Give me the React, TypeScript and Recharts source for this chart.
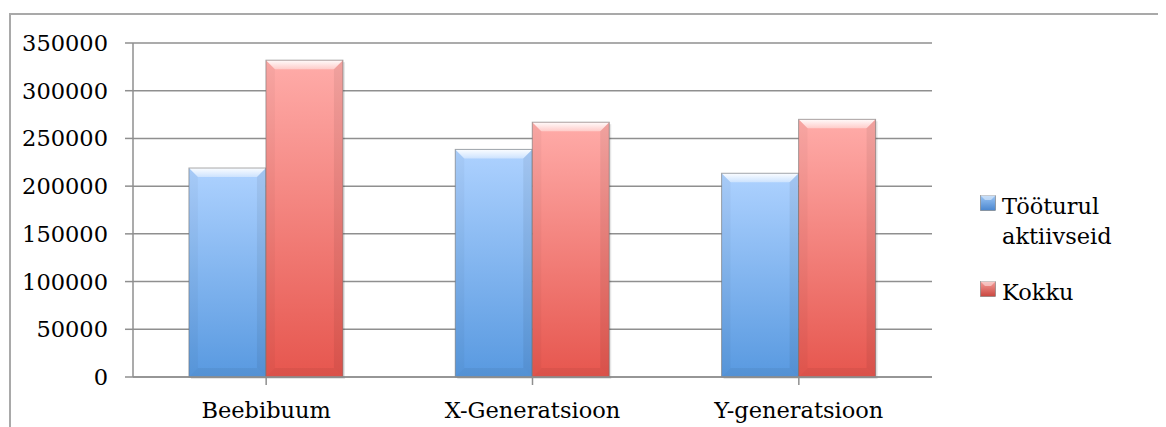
import { BarChart, Bar, XAxis, YAxis, CartesianGrid } from 'recharts';

const generations = ['Beebibuum', 'X-Generatsioon', 'Y-generatsioon'];
const activeInLabour = [219000, 238500, 213500];
const totals = [332000, 267000, 270000];
const yTicks = [0, 50000, 100000, 150000, 200000, 250000, 300000, 350000];

const seriesNames = ['Tööturul aktiivseid', 'Kokku'];

const chartData = generations.map((name, i) => ({
  name,
  active: activeInLabour[i],
  total: totals[i],
}));

const FONT = '"DejaVu Serif", serif';
const FONT_SIZE = 22.5;

// Bevelled bar, drawn the way office charts render their "soft" bars
const BevelBar = (props: any) => {
  const { x, y, width, height, gradId } = props;
  if (!height || height <= 0) return null;
  const b = Math.min(9, width / 4, height / 2);
  const r = x + width;
  const bt = y + height;
  return (
    <g>
      <rect x={x + 2} y={y + 2} width={width} height={height} fill="#000" opacity={0.1} />
      <rect x={x} y={y} width={width} height={height} fill={`url(#${gradId})`} />
      {/* top bevel */}
      <polygon points={`${x},${y} ${r},${y} ${r - b},${y + b} ${x + b},${y + b}`} fill="url(#bevelTop)" />
      {/* side bevels */}
      <polygon points={`${x},${y} ${x + b},${y + b} ${x + b},${bt - b} ${x},${bt}`} fill="#000" opacity={0.03} />
      <polygon points={`${r},${y} ${r - b},${y + b} ${r - b},${bt - b} ${r},${bt}`} fill="#000" opacity={0.06} />
      <polygon points={`${x},${bt} ${x + b},${bt - b} ${r - b},${bt - b} ${r},${bt}`} fill="#000" opacity={0.05} />
      <rect x={x} y={y} width={width} height={height} fill="none" stroke="#6f6f6f" strokeOpacity={0.6} strokeWidth={1} />
    </g>
  );
};

const Swatch = ({ from, to }: { from: string; to: string }) => {
  const id = `sw-${from.slice(1)}`;
  return (
    <svg width={16} height={16} style={{ marginRight: 6, marginTop: 4, flex: 'none' }}>
      <defs>
        <linearGradient id={id} x1="0" y1="0" x2="0" y2="1">
          <stop offset="0%" stopColor={from} />
          <stop offset="100%" stopColor={to} />
        </linearGradient>
      </defs>
      <rect x={0.5} y={0.5} width={15} height={15} fill={`url(#${id})`} stroke="#777" strokeWidth={0.6} />
      <polygon points="0,0 16,0 11,5 5,5" fill="#fff" opacity={0.45} />
    </svg>
  );
};

const LegendBox = () => (
  <div
    style={{
      position: 'absolute',
      left: 972,
      top: 183,
      fontFamily: FONT,
      fontSize: FONT_SIZE,
      color: '#000',
      lineHeight: '30px',
    }}
  >
    <div style={{ display: 'flex', alignItems: 'flex-start' }}>
      <Swatch from="#9cc6f5" to="#4a86cf" />
      <div style={{ width: 120 }}>{seriesNames[0]}</div>
    </div>
    <div style={{ display: 'flex', alignItems: 'flex-start', marginTop: 26 }}>
      <Swatch from="#f59c98" to="#c9463f" />
      <div>{seriesNames[1]}</div>
    </div>
  </div>
);

const App = () => {
  return (
    <div style={{ position: 'relative', width: 1158, height: 419, overflow: 'hidden', background: '#fff' }}>
      <div
        style={{
          position: 'absolute',
          left: 1,
          top: 5,
          width: 2000,
          height: 1000,
          border: '2px solid #a9a9a9',
          boxSizing: 'border-box',
        }}
      />
      <div style={{ position: 'absolute', left: 0, top: 0 }}>
        <BarChart
          width={1158}
          height={419}
          data={chartData}
          margin={{ top: 35, right: 234, left: 0, bottom: 0 }}
          barCategoryGap="21%"
          barGap={0}
        >
          <defs>
            <linearGradient id="gradBlue" x1="0" y1="0" x2="0" y2="1">
              <stop offset="0%" stopColor="#aed2ff" />
              <stop offset="100%" stopColor="#5899e0" />
            </linearGradient>
            <linearGradient id="gradRed" x1="0" y1="0" x2="0" y2="1">
              <stop offset="0%" stopColor="#ffaca9" />
              <stop offset="100%" stopColor="#e6564e" />
            </linearGradient>
            <linearGradient id="bevelTop" x1="0" y1="0" x2="0" y2="1">
              <stop offset="0%" stopColor="#ffffff" stopOpacity={0.95} />
              <stop offset="100%" stopColor="#ffffff" stopOpacity={0.4} />
            </linearGradient>
          </defs>
          <CartesianGrid vertical={false} stroke="#8f8f8f" strokeWidth={1.5} />
          <XAxis
            dataKey="name"
            height={50}
            stroke="#8f8f8f"
            strokeWidth={1.5}
            tickSize={8}
            tickMargin={17}
            tick={{ fill: '#000', fontFamily: FONT, fontSize: FONT_SIZE }}
          />
          <YAxis
            width={125}
            domain={[0, 350000]}
            ticks={yTicks}
            interval={0}
            stroke="#8f8f8f"
            strokeWidth={1.5}
            tickSize={8}
            tickMargin={17}
            tick={{ fill: '#000', fontFamily: FONT, fontSize: FONT_SIZE }}
          />
          <Bar
            dataKey="active"
            name={seriesNames[0]}
            isAnimationActive={false}
            shape={(p: any) => <BevelBar {...p} gradId="gradBlue" />}
          />
          <Bar
            dataKey="total"
            name={seriesNames[1]}
            isAnimationActive={false}
            shape={(p: any) => <BevelBar {...p} gradId="gradRed" />}
          />
        </BarChart>
      </div>
      <LegendBox />
    </div>
  );
};

export default App;
